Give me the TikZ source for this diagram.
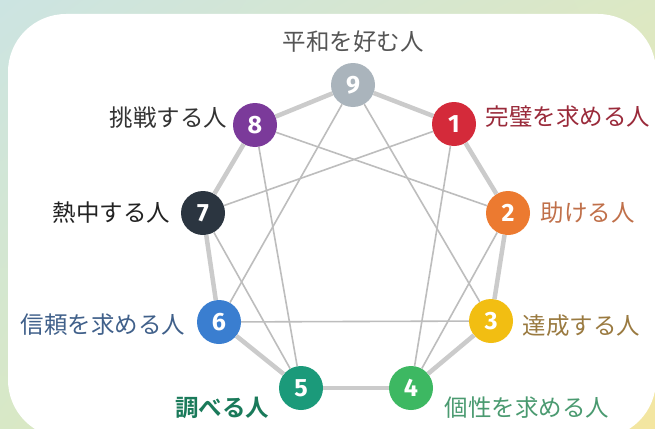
\documentclass[tikz,border=0pt]{standalone}
\usepackage{fontspec}
\newfontfamily\jpfont{Noto Sans CJK JP}[BoldFont={Noto Sans CJK JP Bold}]
\newfontfamily\numfont{Fira Sans}
\usepackage{tikz}
\usetikzlibrary{calc,shadings}

\definecolor{bgtl}{HTML}{CCE4E2}
\definecolor{bgtr}{HTML}{DCE8C4}
\definecolor{bgbl}{HTML}{D8E8C6}
\definecolor{bgbr}{HTML}{F4E6A0}
\definecolor{rimgray}{HTML}{CBCBCB}
\definecolor{chordgray}{HTML}{BDBDBD}
\definecolor{c1}{HTML}{D42A3A}
\definecolor{c2}{HTML}{EC7A30}
\definecolor{c3}{HTML}{F2BE12}
\definecolor{c4}{HTML}{3DB862}
\definecolor{c5}{HTML}{1B9A7A}
\definecolor{c6}{HTML}{3A7ED0}
\definecolor{c7}{HTML}{2B3540}
\definecolor{c8}{HTML}{7B3A9A}
\definecolor{c9}{HTML}{AAB4BC}
\definecolor{t1}{HTML}{9A2A3A}
\definecolor{t2}{HTML}{C0704A}
\definecolor{t3}{HTML}{9A7A40}
\definecolor{t4}{HTML}{4A9A70}
\definecolor{t5}{HTML}{1A7A5A}
\definecolor{t6}{HTML}{40608A}
\definecolor{t7}{HTML}{222222}
\definecolor{t8}{HTML}{333333}
\definecolor{t9}{HTML}{555555}

\tikzset{
  typenode/.style={circle,minimum size=44pt,inner sep=0pt,text=white,
    font=\numfont\bfseries\fontsize{25}{25}\selectfont},
  lab/.style={font=\jpfont\fontsize{23.5}{26}\selectfont},
  rim/.style={line width=4.5pt,color=rimgray},
  chord/.style={line width=1.6pt,color=chordgray}
}

\begin{document}
\begin{tikzpicture}[x=1pt,y=-1pt]
			\useasboundingbox (0,0) rectangle (655,428);
			\clip (0,0) rectangle (655,428);
			\shade[upper left=bgtl,upper right=bgtr,lower left=bgbl,lower right=bgbr] (0,0) rectangle (655,428);
			\fill[white,rounded corners=58pt] (8,14) rectangle (656,438);
			
			\node[typenode,fill=c9] (n9) at (353,85) {9};
			\node[typenode,fill=c1] (n1) at (454,124) {1};
			\node[typenode,fill=c2] (n2) at (508,213) {2};
			\node[typenode,fill=c3] (n3) at (491,321) {3};
			\node[typenode,fill=c4] (n4) at (411,388) {4};
			\node[typenode,fill=c5] (n5) at (301,388) {5};
			\node[typenode,fill=c6] (n6) at (219,322) {6};
			\node[typenode,fill=c7] (n7) at (203,213) {7};
			\node[typenode,fill=c8] (n8) at (255,125) {8};
			
			\node[lab,text=t9] (l9) at ($(n9)+(0,-43)$) {平和を好む人};
			\node[lab,text=t1,anchor=west] (l1) at ($(n1)+(28,-7)$) {完璧を求める人};
			\node[lab,text=t2,anchor=west] (l2) at ($(n2)+(29,0)$) {助ける人};
			\node[lab,text=t3,anchor=west] (l3) at ($(n3)+(28,5)$) {達成する人};
			\node[lab,text=t4,anchor=west] (l4) at ($(n4)+(30,20)$) {個性を求める人};
			\node[lab,text=t5,anchor=east,font=\jpfont\bfseries\fontsize{23.5}{26}\selectfont] (l5) at ($(n5)+(-28,20)$) {調べる人};
			\node[lab,text=t6,anchor=east] (l6) at ($(n6)+(-30,3)$) {信頼を求める人};
			\node[lab,text=t7,anchor=east] (l7) at ($(n7)+(-29,0)$) {熱中する人};
			\node[lab,text=t8,anchor=east] (l8) at ($(n8)+(-24,-7)$) {挑戦する人};
			
			%rim
			\draw[rim] (n9)--(n1);
			\draw[rim] (n1)--(n2);
			\draw[rim] (n2)--(n3);
			\draw[rim] (n3)--(n4);
			\draw[rim] (n4)--(n5);
			\draw[rim] (n5)--(n6);
			\draw[rim] (n6)--(n7);
			\draw[rim] (n7)--(n8);
			\draw[rim] (n8)--(n9);
			
			%triangle
			\draw[chord] (n9)--(n3);
			\draw[chord] (n3)--(n6);
			\draw[chord] (n6)--(n9);
			
			%hexad
			\draw[chord] (n1)--(n4);
			\draw[chord] (n4)--(n2);
			\draw[chord] (n2)--(n8);
			\draw[chord] (n8)--(n5);
			\draw[chord] (n5)--(n7);
			\draw[chord] (n7)--(n1);
		\end{tikzpicture}
\end{document}
